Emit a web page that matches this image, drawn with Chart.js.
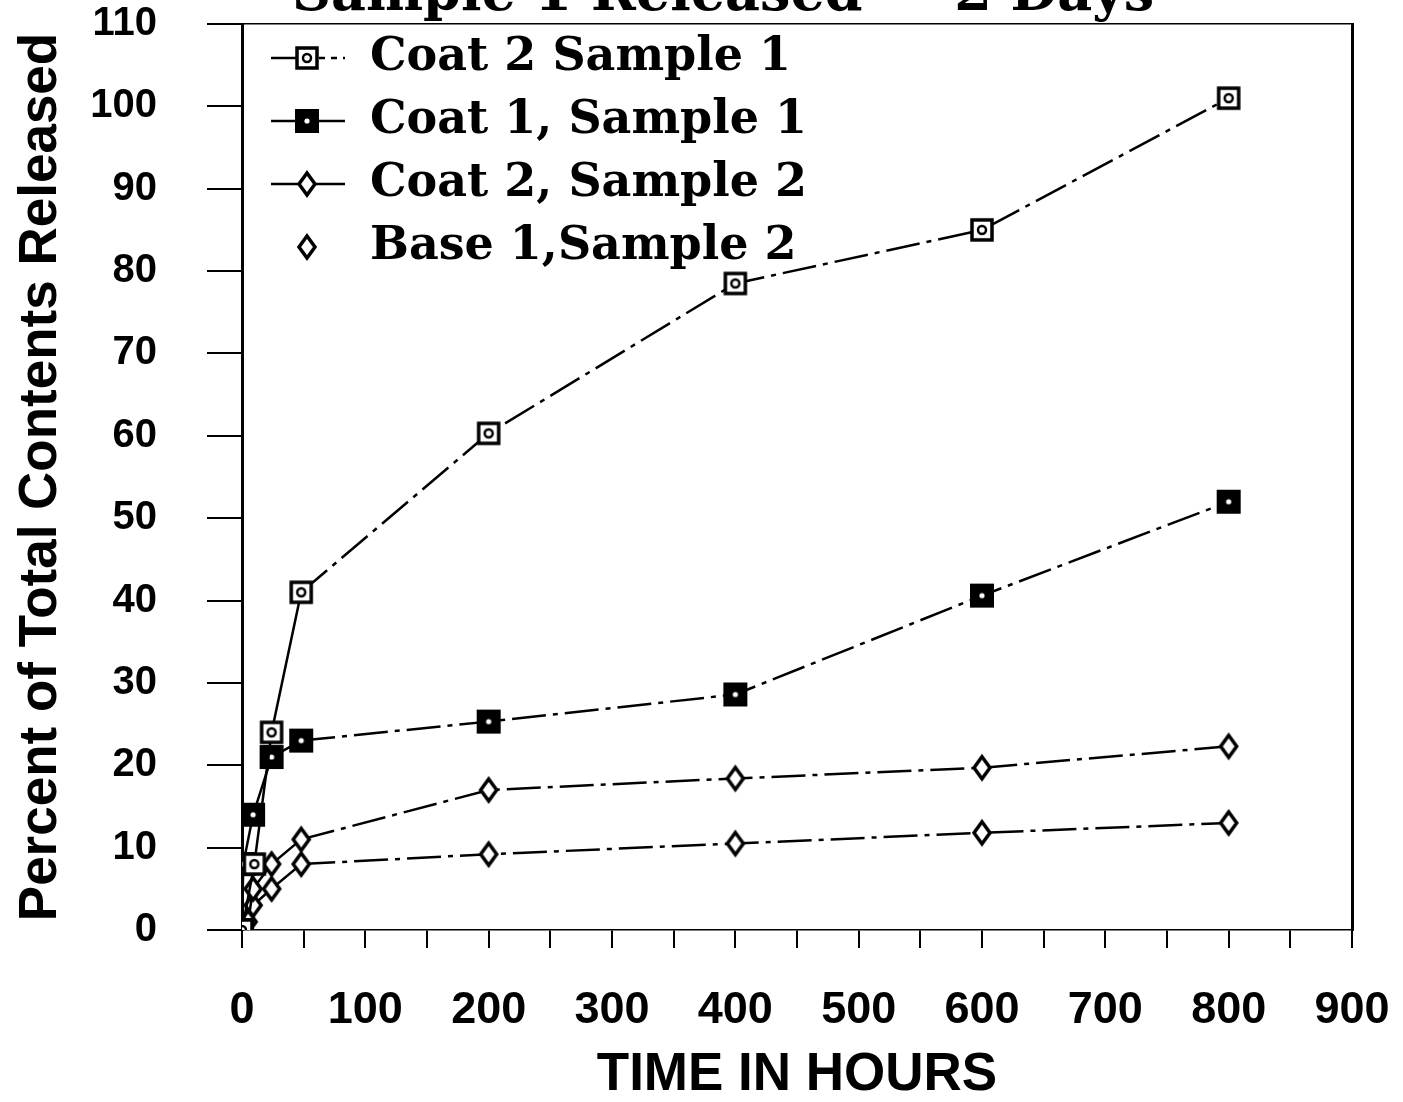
<!DOCTYPE html>
<html>
<head>
<meta charset="utf-8">
<script src="https://cdn.jsdelivr.net/npm/chart.js@4.4.1/dist/chart.umd.min.js"></script>
<style>
  html, body { margin: 0; padding: 0; background: #fff; }
  #wrap { width: 1403px; height: 1102px; position: relative; }
</style>
</head>
<body>
<div id="wrap"><canvas id="c" width="1403" height="1102"></canvas></div>
<script>
// ---- data: release of contents over time (hours → percent released) ----
const chartTitle = 'Sample 1 Released \u2014 2 Days';
const seriesNames = ['Coat 2 Sample 1', 'Coat 1, Sample 1', 'Coat 2, Sample 2', 'Base 1,Sample 2'];

const coat2s1Hours = [0, 10, 24, 48, 200, 400, 600, 800];
const coat2s1Pct   = [0, 8, 24, 41, 60.3, 78.5, 85, 101];

const coat1s1Hours = [0, 1, 9, 24, 48, 200, 400, 600, 800];
const coat1s1Pct   = [0, 8, 14, 21, 23, 25.3, 28.6, 40.6, 52];

const coat2s2Hours = [0, 5, 9, 24, 48, 200, 400, 600, 800];
const coat2s2Pct   = [0, 1, 5, 8, 11, 17, 18.4, 19.7, 22.3];

const base1s2Hours = [0, 9, 24, 48, 200, 400, 600, 800];
const base1s2Pct   = [0, 3, 5, 8, 9.2, 10.5, 11.8, 13];

const xTickLabels = [0, 100, 200, 300, 400, 500, 600, 700, 800, 900];
const yTickLabels = [0, 10, 20, 30, 40, 50, 60, 70, 80, 90, 100, 110];

const xTitle = 'TIME IN HOURS';
const yTitle = 'Percent of Total Contents Released';

// ---- marker glyphs ----
function drawMarker(ctx, kind, cx, cy) {
  ctx.strokeStyle = '#000';
  ctx.fillStyle = '#000';
  if (kind === 'openSquare') {
    ctx.fillStyle = '#fff';
    ctx.fillRect(cx - 10, cy - 10, 20, 20);
    ctx.lineWidth = 3.5;
    ctx.strokeRect(cx - 10, cy - 10, 20, 20);
    ctx.lineWidth = 2.5;
    ctx.beginPath(); ctx.arc(cx, cy, 4, 0, Math.PI * 2); ctx.stroke();
  } else if (kind === 'filledSquare') {
    ctx.fillRect(cx - 12, cy - 12, 24, 24);
    ctx.fillStyle = '#fff';
    ctx.beginPath(); ctx.arc(cx, cy, 2.6, 0, Math.PI * 2); ctx.fill();
  } else if (kind === 'diamond') {
    ctx.fillStyle = '#fff';
    ctx.lineWidth = 3.5;
    ctx.beginPath();
    ctx.moveTo(cx, cy - 11); ctx.lineTo(cx + 8, cy); ctx.lineTo(cx, cy + 11); ctx.lineTo(cx - 8, cy);
    ctx.closePath(); ctx.fill(); ctx.stroke();
  }
}

function makePointImage(kind) {
  const c = document.createElement('canvas');
  c.width = 32; c.height = 32;
  drawMarker(c.getContext('2d'), kind, 16, 16);
  return c;
}

function makeLegendImage(kind, lineLeft, lineRight, dashedRight) {
  const c = document.createElement('canvas');
  c.width = 96; c.height = 32;
  const ctx = c.getContext('2d');
  const mx = 56, my = 16;
  ctx.strokeStyle = '#000';
  ctx.lineWidth = 2.5;
  if (lineLeft) { ctx.beginPath(); ctx.moveTo(20, my); ctx.lineTo(mx, my); ctx.stroke(); }
  if (lineRight) {
    if (dashedRight) ctx.setLineDash([6, 6]);
    ctx.beginPath(); ctx.moveTo(mx, my); ctx.lineTo(94, my); ctx.stroke();
    ctx.setLineDash([]);
  }
  drawMarker(ctx, kind, mx, my);
  return c;
}

const markerKinds = ['openSquare', 'filledSquare', 'diamond', 'diamond'];
const pointImages = markerKinds.map(makePointImage);
const legendImages = [
  makeLegendImage('openSquare', true, true, true),
  makeLegendImage('filledSquare', true, true, false),
  makeLegendImage('diamond', true, true, false),
  makeLegendImage('diamond', false, false, false)
];

const toPoints = (xs, ys) => xs.map((x, i) => ({ x: x, y: ys[i] }));
const seriesData = [
  toPoints(coat2s1Hours, coat2s1Pct),
  toPoints(coat1s1Hours, coat1s1Pct),
  toPoints(coat2s2Hours, coat2s2Pct),
  toPoints(base1s2Hours, base1s2Pct)
];

const datasets = seriesNames.map((name, i) => ({
  label: name,
  data: seriesData[i],
  borderColor: '#000',
  borderWidth: 2.5,
  fill: false,
  tension: 0,
  pointStyle: pointImages[i],
  pointRadius: 10,
  pointHoverRadius: 10,
  segment: {
    borderDash: ctx => (ctx.p0.parsed.x >= 48 ? [34, 7, 5, 7] : undefined)
  }
}));

// title text runs off the top edge of the page
const topTitle = {
  id: 'topTitle',
  afterDraw(chart) {
    const ctx = chart.ctx;
    ctx.save();
    ctx.fillStyle = '#000';
    ctx.font = 'bold 54px "DejaVu Serif", serif';
    ctx.textBaseline = 'alphabetic';
    ctx.textAlign = 'left';
    ctx.fillText(chartTitle, 292, 10);
    ctx.restore();
  }
};

// keep the legend block pinned to the top-left corner of the plot area
const legendInPlot = {
  id: 'legendInPlot',
  afterLayout(chart) {
    const lg = chart.legend;
    if (!lg) return;
    const h = lg.height;
    lg.top = chart.chartArea.top - 6;
    lg.bottom = lg.top + h;
    lg.left = chart.chartArea.left - 8;
  }
};

// no extra edge padding for overflowing tick labels
function zeroPad(s) {
  s.paddingTop = 0; s.paddingBottom = 0; s.paddingLeft = 0; s.paddingRight = 0;
}

const sansBold = '"Liberation Sans", Arial, sans-serif';

new Chart(document.getElementById('c'), {
  type: 'line',
  data: { datasets: datasets },
  plugins: [topTitle, legendInPlot],
  options: {
    responsive: false,
    animation: false,
    devicePixelRatio: 1,
    layout: { padding: 0 },
    plugins: {
      tooltip: { enabled: false },
      legend: {
        position: 'chartArea',
        align: 'start',
        labels: {
          usePointStyle: true,
          pointStyleWidth: 96,
          padding: 17,
          color: '#000',
          font: { family: '"DejaVu Serif", serif', weight: 'bold', size: 46 },
          generateLabels: chart => chart.data.datasets.map((ds, i) => ({
            text: ds.label,
            pointStyle: legendImages[i],
            fillStyle: '#000',
            strokeStyle: '#000',
            fontColor: '#000',
            lineWidth: 0,
            hidden: false,
            datasetIndex: i
          }))
        }
      }
    },
    scales: {
      x: {
        type: 'linear',
        position: 'bottom',
        min: 0, max: 900,
        ticks: {
          stepSize: 50,
          autoSkip: false,
          maxRotation: 0,
          padding: 36,
          color: '#000',
          font: { family: sansBold, weight: 'bold', size: 45 },
          callback: v => (xTickLabels.includes(v) ? String(v) : '')
        },
        grid: { drawOnChartArea: false, drawTicks: true, tickLength: 18, color: '#000', lineWidth: 2 },
        border: { display: true, color: '#000', width: 1.5, dash: [8, 7] },
        title: {
          display: true, text: xTitle, color: '#000',
          font: { family: sansBold, weight: 'bold', size: 53, lineHeight: 1 },
          padding: { top: 0, bottom: 0 }
        },
        afterFit: s => { s.height = 172; zeroPad(s); }
      },
      xTop: {
        type: 'linear',
        position: 'top',
        min: 0, max: 900,
        ticks: { display: false },
        grid: { display: false, drawTicks: false },
        border: { display: true, color: '#000', width: 1.5, dash: [14, 8] },
        afterFit: s => { s.height = 24; zeroPad(s); }
      },
      y: {
        type: 'linear',
        position: 'left',
        min: 0, max: 110,
        ticks: {
          stepSize: 10,
          autoSkip: false,
          padding: 50,
          color: '#000',
          font: { family: sansBold, weight: 'bold', size: 40 },
          callback: v => (yTickLabels.includes(v) ? String(v) : '')
        },
        grid: { drawOnChartArea: false, drawTicks: true, tickLength: 35, color: '#000', lineWidth: 2 },
        border: { display: true, color: '#000', width: 3 },
        title: {
          display: true, text: yTitle, color: '#000',
          font: { family: sansBold, weight: 'bold', size: 53, lineHeight: 1 },
          padding: { top: 15, bottom: 0 }
        },
        afterFit: s => { s.width = 242; zeroPad(s); }
      },
      yRight: {
        type: 'linear',
        position: 'right',
        min: 0, max: 110,
        ticks: { display: false },
        grid: { display: false, drawTicks: false },
        border: { display: true, color: '#000', width: 3 },
        afterFit: s => { s.width = 51; zeroPad(s); }
      }
    }
  }
});
</script>
</body>
</html>
